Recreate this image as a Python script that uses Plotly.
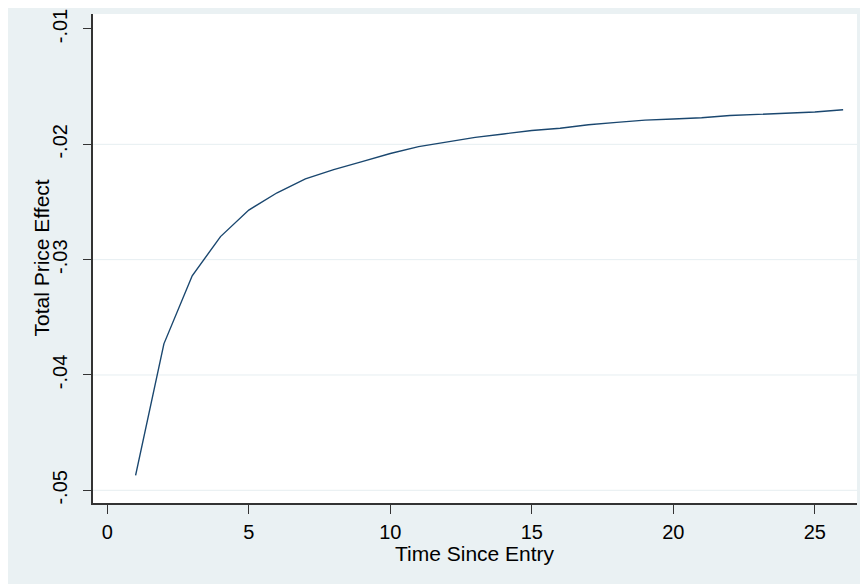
import plotly.graph_objects as go

time_since_entry = list(range(1, 27))
total_price_effect = [
    -0.0487, -0.0373, -0.0314, -0.0280, -0.0257, -0.0242, -0.0230, -0.0222,
    -0.0215, -0.0208, -0.0202, -0.0198, -0.0194, -0.0191, -0.0188, -0.0186,
    -0.0183, -0.0181, -0.0179, -0.0178, -0.0177, -0.0175, -0.0174, -0.0173,
    -0.0172, -0.0170,
]
x_tick_vals = [0, 5, 10, 15, 20, 25]
y_tick_vals = [-0.05, -0.04, -0.03, -0.02, -0.01]
y_tick_text = ["-.05", "-.04", "-.03", "-.02", "-.01"]
grid_vals = [-0.05, -0.04, -0.03, -0.02]
x_title = "Time Since Entry"
y_title = "Total Price Effect"

BG = "#EAF1F3"
FONT = "Liberation Sans, Arial, sans-serif"

fig = go.Figure()
fig.add_trace(go.Scatter(
    x=time_since_entry, y=total_price_effect, mode="lines",
    line=dict(color="#1A476F", width=1.4), showlegend=False,
))

# page body has an 8px margin, so the figure is placed at (8, 8)
W, H = 860, 576
L, R, T, B = 85, 11, 6, 81
pw, ph = W - L - R, H - T - B

shapes = []
for g in grid_vals:
    shapes.append(dict(type="line", xref="paper", yref="y", x0=0, x1=1, y0=g, y1=g,
                       line=dict(color="#E6EEF1", width=1), layer="below"))

annotations = [
    dict(text=x_title, xref="paper", yref="paper", x=0.5, y=-50 / ph,
         xanchor="center", yanchor="middle", showarrow=False, font=dict(size=21)),
    dict(text=y_title, xref="paper", yref="paper", x=-52 / pw, y=0.5, textangle=-90,
         xanchor="center", yanchor="middle", showarrow=False, font=dict(size=21)),
]

fig.update_layout(
    width=W, height=H,
    margin=dict(l=L, r=R, t=T, b=B, autoexpand=False),
    paper_bgcolor=BG, plot_bgcolor="white",
    font=dict(family=FONT, color="#000000", size=20),
    shapes=shapes, annotations=annotations,
    xaxis=dict(
        range=[-0.505, 26.49], tickmode="array", tickvals=x_tick_vals,
        ticks="outside", ticklen=9, tickwidth=1.3, tickcolor="#333333", automargin=False,
        showgrid=False, zeroline=False, showline=True, linecolor="#333333", linewidth=1.5,
        tickfont=dict(size=20), ticklabelstandoff=1,
    ),
    yaxis=dict(
        range=[-0.0511, -0.0087], tickmode="array", tickvals=y_tick_vals, ticktext=y_tick_text,
        tickangle=-90, ticks="outside", ticklen=8, tickwidth=1.3, tickcolor="#333333", automargin=False,
        showgrid=False, zeroline=False, showline=True, linecolor="#333333", linewidth=1.5,
        tickfont=dict(size=20), ticklabelstandoff=8,
    ),
)

fig.write_html("out.html")
